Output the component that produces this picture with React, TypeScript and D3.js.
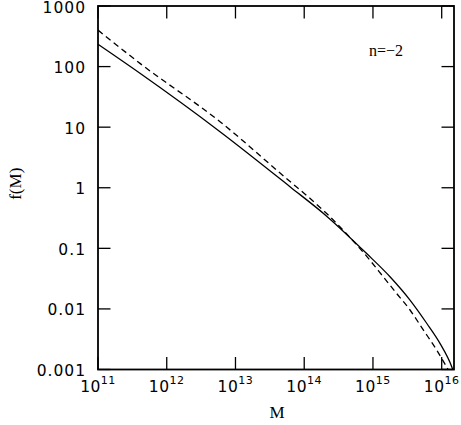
import React from 'react';
import * as d3 from 'd3';

// values (M in solar masses, f(M))
const solidMass = [1e11, 4.08e11, 5.96e12, 6.21e13, 2.12e14, 8.1e14, 1.77e15, 3.46e15, 6.05e15, 9.44e15, 1.4e16, 1.48e16];
const solidF = [233, 77.4, 8.41, 1.04, 0.34, 0.082, 0.034, 0.014, 0.0058, 0.0027, 0.00111, 0.00093];

const dashedMass = [1e11, 4.08e11, 5.96e12, 5.86e13, 1.21e14, 2.12e14, 9.0e14, 1.41e15, 2.21e15, 3.46e15, 5.4e15, 8.45e15, 1.18e16, 1.29e16];
const dashedF = [400, 113, 12.3, 1.34, 0.67, 0.375, 0.064, 0.034, 0.018, 0.0096, 0.0045, 0.0021, 0.0011, 0.00092];

const xTickExps = [11, 12, 13, 14, 15, 16];
const yTicks = [1000, 100, 10, 1, 0.1, 0.01, 0.001];
const yTickLabels = ['1000', '100', '10', '1', '0.1', '0.01', '0.001'];

const W = 461;
const H = 425;
const margin = { left: 98, right: 7, top: 6, bottom: 55.5 };
const TICK = 12.5;
const NUM_FONT = '"DejaVu Sans", sans-serif';
const TXT_FONT = '"Liberation Serif", serif';

export default function App() {
  const x0 = margin.left;
  const x1 = W - margin.right;
  const y0 = margin.top;
  const y1 = H - margin.bottom;

  const x = d3.scaleLog().domain([1e11, Math.pow(10, 16.179)]).range([x0, x1]);
  const y = d3.scaleLog().domain([0.001, 1000]).range([y1, y0]);

  const line = d3
    .line<[number, number]>()
    .x((d) => x(d[0]))
    .y((d) => y(d[1]))
    .curve(d3.curveMonotoneX);

  const solid = solidMass.map((m, i) => [m, solidF[i]] as [number, number]);
  const dashed = dashedMass.map((m, i) => [m, dashedF[i]] as [number, number]);

  return (
    <svg width={W} height={H} style={{ position: 'absolute', left: 0, top: 0, background: '#fff' }}>
      <defs>
        <clipPath id="plot">
          <rect x={x0} y={y0} width={x1 - x0} height={y1 - y0} />
        </clipPath>
      </defs>

      <g clipPath="url(#plot)" fill="none" stroke="#000" strokeWidth={1.3}>
        <path d={line(solid) || ''} />
        <path d={line(dashed) || ''} strokeDasharray="6,4" />
      </g>

      {/* ticks on all four sides */}
      <g stroke="#000" strokeWidth={1.3}>
        {xTickExps.map((e) => {
          const px = x(Math.pow(10, e));
          return (
            <g key={e}>
              <line x1={px} x2={px} y1={y1} y2={y1 - TICK} />
              <line x1={px} x2={px} y1={y0} y2={y0 + TICK} />
            </g>
          );
        })}
        {yTicks.map((v) => {
          const py = y(v);
          return (
            <g key={v}>
              <line x1={x0} x2={x0 + TICK} y1={py} y2={py} />
              <line x1={x1} x2={x1 - TICK} y1={py} y2={py} />
            </g>
          );
        })}
      </g>

      <rect x={x0} y={y0} width={x1 - x0} height={y1 - y0} fill="none" stroke="#000" strokeWidth={1.8} />

      {/* y tick labels */}
      <g fontFamily={NUM_FONT} fontSize={15.5} textAnchor="end" letterSpacing={1}>
        {yTicks.map((v, i) => (
          <text key={v} x={86} y={y(v) + 6.5}>
            {yTickLabels[i]}
          </text>
        ))}
      </g>

      {/* x tick labels: 10^n */}
      <g fontFamily={NUM_FONT} textAnchor="middle">
        {xTickExps.map((e) => (
          <text key={e} x={x(Math.pow(10, e))} y={392} fontSize={15.5} letterSpacing={0.5}>
            10
            <tspan fontSize={11} dy={-8}>
              {e}
            </tspan>
          </text>
        ))}
      </g>

      <text x={(x0 + x1) / 2 + 1} y={418} fontFamily={TXT_FONT} fontSize={17} textAnchor="middle">
        M
      </text>
      <text
        transform={`translate(21, ${(y0 + y1) / 2 - 4}) rotate(-90)`}
        fontFamily={TXT_FONT}
        fontSize={17}
        textAnchor="middle"
      >
        f(M)
      </text>
      <text x={386} y={56} fontFamily={TXT_FONT} fontSize={16} textAnchor="middle">
        n=−2
      </text>
    </svg>
  );
}
